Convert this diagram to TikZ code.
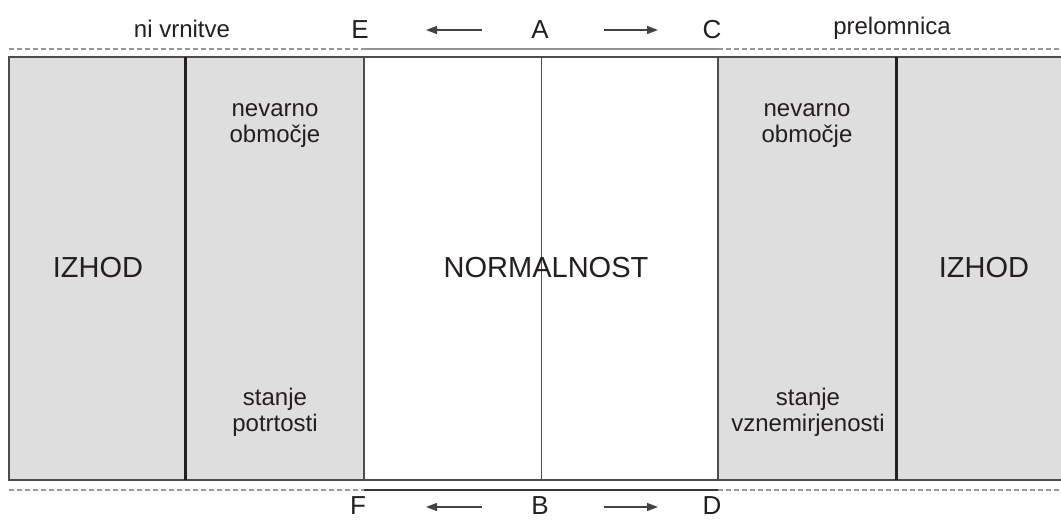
\documentclass[tikz,border=0pt]{standalone}
\usepackage{fontspec}
\setmainfont{Liberation Sans}
\usetikzlibrary{arrows.meta}
\definecolor{panel}{HTML}{DEDEDE}
\definecolor{ink}{HTML}{231F20}

\begin{document}
\begin{tikzpicture}[x=1pt,y=-1pt,
	small/.style={font=\fontsize{24}{25.5}\selectfont,text=ink,inner sep=0pt,align=center,anchor=base},
	big/.style={font=\fontsize{29}{31}\selectfont,text=ink,inner sep=0pt},
	letter/.style={font=\fontsize{26}{28}\selectfont,text=ink,inner sep=0pt,anchor=base},
	guide/.style={draw=gray!80,dash pattern=on 5pt off 3pt,line width=1.2pt},
	move/.style={draw=ink!85,line width=1.2pt,-{Triangle[length=11pt,width=8pt]}}]
	\clip (0,0) rectangle (1061,520);
	\fill[white] (0,0) rectangle (1061,520);
	% zones
	\fill[panel] (9,57) rectangle (364,480);
	\fill[panel] (718,57) rectangle (1075,480);
	\draw[ink!80,line width=1.3pt] (9,57) rectangle (1075,480);
	\draw[ink!80,line width=1.3pt] (364,57) -- (364,480);
	\draw[ink!80,line width=1.3pt] (718,57) -- (718,480);
	\draw[ink!80,line width=1pt] (541.5,57) -- (541.5,480);
	\draw[ink,line width=3pt] (185,57) -- (185,480);
	\draw[ink,line width=3pt] (896,57) -- (896,480);
	% borders
	\draw[guide] (9,49) -- (364,49);
	\draw[guide] (718,49) -- (1061,49);
	\draw[gray!85,line width=1.5pt] (364,49) -- (718,49);
	\draw[guide] (9,490) -- (364,490);
	\draw[guide] (718,490) -- (1061,490);
	\draw[ink!90,line width=1.3pt] (364,490) -- (718,490);
	% labels
	\node[small] (novr) at (182,37) {ni vrnitve};
	\node[small] (prel) at (892,34) {prelomnica};
	\node[letter] (E) at (360,38) {E};
	\node[letter] (A) at (540,38) {A};
	\node[letter] (C) at (712,38) {C};
	\node[letter] (F) at (358,514) {F};
	\node[letter] (B) at (540,514) {B};
	\node[letter] (D) at (712,514) {D};
	\coordinate (aE) at (426,30);
	\coordinate (aA1) at (482,30);
	\coordinate (aA2) at (604,30);
	\coordinate (aC) at (658,30);
	\coordinate (aF) at (426,507);
	\coordinate (aB1) at (482,507);
	\coordinate (aB2) at (604,507);
	\coordinate (aD) at (658,507);
	\draw[move] (aA1) -- (aE);
	\draw[move] (aA2) -- (aC);
	\draw[move] (aB1) -- (aF);
	\draw[move] (aB2) -- (aD);
	\node[big] (izl) at (98,268) {IZHOD};
	\node[big] (izr) at (984,268) {IZHOD};
	\node[big] (norm) at (546,268) {NORMALNOST};
	\node[small] (nevl) at (275,142) {nevarno\\območje};
	\node[small] (nevr) at (807,142) {nevarno\\območje};
	\node[small] (potr) at (275,431) {stanje\\potrtosti};
	\node[small] (vzne) at (808,431) {stanje\\vznemirjenosti};
\end{tikzpicture}
\end{document}
